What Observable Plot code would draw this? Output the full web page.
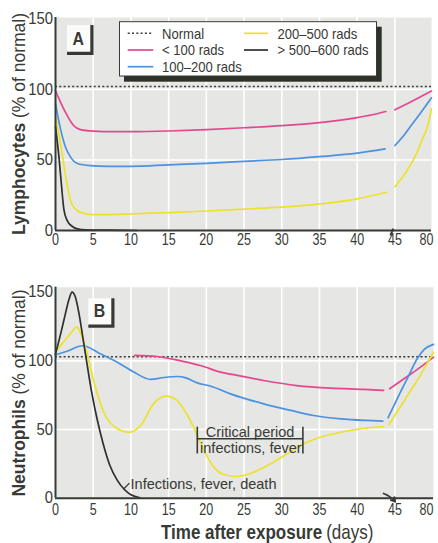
<!DOCTYPE html>
<html><head><meta charset="utf-8">
<script src="https://cdn.jsdelivr.net/npm/d3@7"></script>
<script src="https://cdn.jsdelivr.net/npm/@observablehq/plot@0.6"></script>
<style>
body{margin:0;background:#fff;}
#chart{width:438px;height:543px;}
#chart svg{display:block;}
</style></head><body><div id="chart"></div>
<script>
// ---------- data ----------
const xTicks = [0, 5, 10, 15, 20, 25, 30, 35, 40, 45];
const xTicksLate = [80];
const yTicks = [0, 50, 100, 150];
const gridDays = [5, 10, 15, 20, 25, 30, 35, 40, 45];
const gridValues = [50, 100];
const seriesNames = ["Normal", "< 100 rads", "100–200 rads", "200–500 rads", "> 500–600 rads"];
const seriesColors = ["#3a3d38", "#e5478f", "#4a92e2", "#ece22c", "#2f312e"];

// Panel A: Lymphocytes (% of normal), [day, value]
const lymphNormal = 102;
const lymphLt100 = [[0,99],[0.66,91],[1.55,81.5],[2.4,74.4],[3.3,71.5],[5.1,70.4],[7.5,70],[10,70],[15,70.5],[20,71.5],[25,72.8],[30,74.3],[35,76.5],[40,80],[42,82],[43.8,84.3]];
const lymphLt100Late = [[45,85.5],[60,91],[80,98.8]];
const lymph100to200 = [[0,89.8],[0.66,72],[1.33,59],[2,52],[2.9,47.5],[4.6,46],[7,45.5],[10,45.5],[15,46.5],[20,47.6],[25,49],[30,50.3],[35,52.3],[40,54.8],[43.7,57.8]];
const lymph100to200Late = [[45,60.2],[53.5,67.3],[60.5,74.4],[69,82.7],[80,94]];
const lymph200to500 = [[0,80.3],[0.66,62],[1.33,39],[2,21],[2.5,16],[3.5,12.5],[5,11.3],[7,11.2],[10,11.8],[15,12.7],[20,13.8],[25,15.2],[30,16.5],[35,18.8],[40,22.4],[43.9,27.1]];
const lymph200to500Late = [[45,31],[52,37.5],[58.7,45],[65.6,54.4],[70.7,63.8],[75.9,73.2],[80,86.2]];
const lymphOver500 = [[0,73.2],[0.44,53],[0.76,34],[1.1,15.4],[1.55,7],[2.2,3],[2.9,1.2],[4,0.5],[7,0.2],[10.8,0]];

// Panel B: Neutrophils (% of normal), [day, value]
const neutroNormal = 103;
const neutroLt100 = [[10.5,104],[13.5,103.2],[16.6,100],[19.2,96.6],[21.9,91.8],[24.1,89.4],[27.6,85.7],[32,82],[36.5,80.1],[40.9,79.2],[43.5,78.5]];
const neutroLt100Late = [[44.3,79.7],[56.2,88.6],[68.2,95.4],[80,102.7]];
const neutro100to200 = [[0,104.4],[1.5,107],[3.6,111],[6,105],[8.2,99],[10.5,91.5],[12.6,86.5],[14.4,87.9],[16.2,88.6],[17.2,87.8],[18.8,84],[20.6,81.5],[23.2,76],[27.6,68.7],[31.2,63.9],[34.2,60.2],[37.8,57.8],[41.3,56.6],[43.4,56.1]];
const neutro100to200Late = [[44.1,58.6],[49.9,77],[57.6,89.4],[65.2,101.5],[71.2,108],[80,112]];
const neutro200to500 = [[0,107],[1.1,114],[2,120],[2.8,124.5],[4,108.8],[5.1,84.5],[6.4,62.6],[8.2,50.5],[9.7,48],[11.3,53],[13,68.7],[14.6,74.3],[16.1,71.2],[17.5,60.2],[18.3,51.7],[19.7,34.7],[21,22.6],[22.3,17.3],[24.1,15.8],[26.3,19],[28.5,25],[30.7,32.3],[32.9,39.6],[35.1,44.4],[37.8,48],[40.4,50.5],[43.5,52.2]];
const neutro200to500Late = [[44.2,53.5],[54.9,72.8],[65.2,85.7],[75.7,100.3],[80,106.3]];
const neutroOver500 = [[0,105],[0.7,120],[1.3,134],[1.8,145],[2.2,150],[2.6,147],[3.1,135],[3.6,118],[4.2,97],[4.8,77],[5.5,58],[6.3,40],[7.2,24],[8.2,13],[9.1,6.5],[10,2.5],[11.2,0.3]];

// annotations (panel B)
const criticalDays = [18.8, 32.8];
const criticalBar = [32.2, 51.7];
const criticalLevel = 43.3;
const criticalNotes = [
  {text: "Critical period", day: 25.8, value: 48.2},
  {text: "infections, fever", day: 25.9, value: 36.6}
];
const deathNote = [{text: "Infections, fever, death", day: 9.95, value: 10.1}];
const deathLeader = [{day1: 9.0, value1: 6.5, day2: 9.8, value2: 11}];
const breakA = [{day1: 44.4, value1: -3.5, day2: 44.8, value2: 1.3}];
const breakB = [{day1: 43.5, value1: 3.4, day2: 45.3, value2: -2.6}];

// ---------- build tables ----------
function rowsOf(series, ...segments) {
  return segments.flatMap((pts, i) => pts.map(([day, value]) => ({series, seg: series + "|" + i, day, value})));
}
const rowsA = [
  ...rowsOf(seriesNames[1], lymphLt100, lymphLt100Late),
  ...rowsOf(seriesNames[2], lymph100to200, lymph100to200Late),
  ...rowsOf(seriesNames[3], lymph200to500, lymph200to500Late),
  ...rowsOf(seriesNames[4], lymphOver500)
];
const rowsB = [
  ...rowsOf(seriesNames[1], neutroLt100, neutroLt100Late),
  ...rowsOf(seriesNames[2], neutro100to200, neutro100to200Late),
  ...rowsOf(seriesNames[3], neutro200to500, neutro200to500Late),
  ...rowsOf(seriesNames[4], neutroOver500)
];

// ---------- styling ----------
const W = 438;
const ink = "#373a35";
const fReg = "'Liberation Sans',Arial,sans-serif";

function panel(o) {
  const axisText = {tickSize: 0, fill: ink, fontSize: 16.5, fontFamily: fReg, tickFormat: d => String(d)};
  return Plot.plot({
    width: W, height: o.height,
    marginLeft: 55, marginRight: W - o.xRange[2], marginTop: o.marginTop, marginBottom: o.height - o.yRange[0],
    x: {type: "linear", domain: [0, 45, 80], range: o.xRange, label: null},
    y: {type: "linear", domain: [0, 150], range: o.yRange, label: null},
    color: {domain: seriesNames, range: seriesColors},
    style: {fontFamily: fReg, fontSize: "16.5px", color: ink, background: "transparent", overflow: "visible"},
    marks: [
      Plot.frame({fill: "#e6e6e4"}),
      Plot.ruleX(gridDays, {stroke: "white", strokeWidth: 1.6}),
      Plot.ruleY(gridValues, {stroke: "white", strokeWidth: 1.6}),
      Plot.ruleY([o.normal], {stroke: ink, strokeWidth: 1.6, strokeDasharray: "2,2.3"}),
      Plot.line(o.rows, {x: "day", y: "value", z: "seg", stroke: "series", strokeWidth: 1.7, curve: "monotone-x"}),
      Plot.ruleX([0], {stroke: ink, strokeWidth: 2}),
      Plot.ruleY([0], {stroke: ink, strokeWidth: 2}),
      Plot.axisX(xTicks, {...axisText, tickPadding: o.xPad}),
      Plot.axisX(xTicksLate, {...axisText, tickPadding: o.xPad, textAnchor: "end", dx: o.lateDx}),
      Plot.axisY(yTicks, {...axisText, tickPadding: 2.5}),
      ...(o.extra || [])
    ]
  });
}

const svgA = panel({
  height: 270, marginTop: 17, xRange: [55, 394.4, 431], yRange: [230, 18.3], xPad: 3, lateDx: 2,
  normal: lymphNormal, rows: rowsA,
  extra: [
    Plot.link(breakA, {x1: "day1", y1: "value1", x2: "day2", y2: "value2", stroke: ink, strokeWidth: 2})
  ]
});
const svgB = panel({
  height: 273, marginTop: 16.7, xRange: [55, 394.4, 433], yRange: [227.7, 21.7], xPad: 5, lateDx: 0,
  normal: neutroNormal, rows: rowsB,
  extra: [
    Plot.ruleX(criticalDays, {y1: criticalBar[0], y2: criticalBar[1], stroke: ink, strokeWidth: 1.6}),
    Plot.ruleY([criticalLevel], {x1: criticalDays[0], x2: criticalDays[1], stroke: ink, strokeWidth: 1.4}),
    Plot.text(criticalNotes, {x: "day", y: "value", text: "text", fontFamily: fReg, fontSize: 14.5, fill: ink, ariaLabel: "note"}),
    Plot.text(deathNote, {x: "day", y: "value", text: "text", textAnchor: "start", fontFamily: fReg, fontSize: 14.5, fill: ink, ariaLabel: "note"}),
    Plot.link(deathLeader, {x1: "day1", y1: "value1", x2: "day2", y2: "value2", stroke: ink, strokeWidth: 1.3}),
    Plot.arrow(breakB, {x1: "day1", y1: "value1", x2: "day2", y2: "value2", stroke: ink, strokeWidth: 1.8, headLength: 5, bend: 15})
  ]
});

// ---------- titles, legend, panel letters ----------
function yTitle(svg, bold, rest, cy) {
  const t = d3.select(svg).append("text")
    .attr("transform", `translate(24.5,${cy}) rotate(-90)`)
    .attr("text-anchor", "middle").attr("fill", ink)
    .style("font-family", fReg).style("font-size", "17.5px");
  t.append("tspan").attr("font-weight", "bold").text(bold);
  t.append("tspan").text(rest);
}
function letterBox(svg, letter, x0, y0, x1, y1) {
  const g = d3.select(svg).append("g");
  g.append("rect").attr("x", x0).attr("y", y0).attr("width", x1 - x0).attr("height", y1 - y0).attr("fill", "#fbfbfa");
  g.append("path").attr("d", `M${x0},${y1 - 1.6}H${x1 - 1.6}V${y0}`).attr("fill", "none").attr("stroke", ink).attr("stroke-width", 3.2);
  g.append("text").attr("class", "cond").attr("data-f", 0.88)
    .attr("x", (x0 + x1) / 2 - 2).attr("y", y1 - 10.5).attr("text-anchor", "middle")
    .attr("fill", ink).style("font-family", fReg).style("font-size", "18px").style("font-weight", "bold").text(letter);
}

yTitle(svgA, "Lymphocytes", " (% of normal)", 124);
yTitle(svgB, "Neutrophils", " (% of normal)", 123);
letterBox(svgA, "A", 67, 25, 93.5, 55);
letterBox(svgB, "B", 88.3, 28.3, 114.5, 57.7);

// legend
{
  const g = d3.select(svgA).append("g");
  g.append("rect").attr("x", 124).attr("y", 26.7).attr("width", 257.7).attr("height", 55).attr("fill", "#2d3229");
  g.append("rect").attr("x", 119.5).attr("y", 21.7).attr("width", 257).attr("height", 54.3)
    .attr("fill", "white").attr("stroke", ink).attr("stroke-width", 1);
  seriesNames.forEach((name, i) => {
    const col = i < 3 ? 0 : 1, row = i < 3 ? i : i - 3;
    const y = 33.3 + row * 16.7;
    const lx = col ? [244, 268] : [127.7, 153.3];
    const tx = col ? 277.5 : 162;
    g.append("line").attr("x1", lx[0]).attr("x2", lx[1]).attr("y1", y).attr("y2", y)
      .attr("stroke", seriesColors[i]).attr("stroke-width", i === 0 ? 1.6 : 1.7)
      .attr("stroke-dasharray", i === 0 ? "2,2.3" : null);
    g.append("text").attr("class", "cond").attr("data-f", 0.87)
      .attr("x", tx).attr("y", y + 5.3).attr("text-anchor", "start").attr("fill", ink)
      .style("font-family", fReg).style("font-size", "15px").text(name);
  });
}

const chart = document.getElementById("chart");
chart.append(svgA, svgB);

// condensed lettering (the original uses a condensed face)
function condense(el, f) {
  const L = el.getComputedTextLength();
  if (L > 0) { el.setAttribute("textLength", (L * f).toFixed(2)); el.setAttribute("lengthAdjust", "spacingAndGlyphs"); }
  return L * f;
}
for (const svg of [svgA, svgB]) {
  svg.querySelectorAll('[aria-label="x-axis tick label"] text').forEach(el => condense(el, 0.76));
  svg.querySelectorAll('[aria-label="y-axis tick label"] text').forEach(el => condense(el, 0.9));
  svg.querySelectorAll('[aria-label="note"] text').forEach(el => condense(el, 0.95));
  svg.querySelectorAll('text.cond').forEach(el => condense(el, +el.getAttribute("data-f")));
}

// x title: bold part + regular part, horizontally condensed by a scale transform
{
  const s = d3.select(svgB);
  const left = 161, base = 268.5, f = 0.85;
  const t1 = s.append("text").attr("transform", `translate(${left},${base}) scale(${f},1)`).attr("text-anchor", "start")
    .attr("fill", ink).style("font-family", fReg).style("font-size", "20px").style("font-weight", "bold")
    .text("Time after exposure");
  const w1 = t1.node().getComputedTextLength() * f;
  s.append("text").attr("transform", `translate(${left + w1 + 4},${base}) scale(${f},1)`).attr("text-anchor", "start")
    .attr("fill", ink).style("font-family", fReg).style("font-size", "20px")
    .text("(days)");
}
</script>
</body></html>
